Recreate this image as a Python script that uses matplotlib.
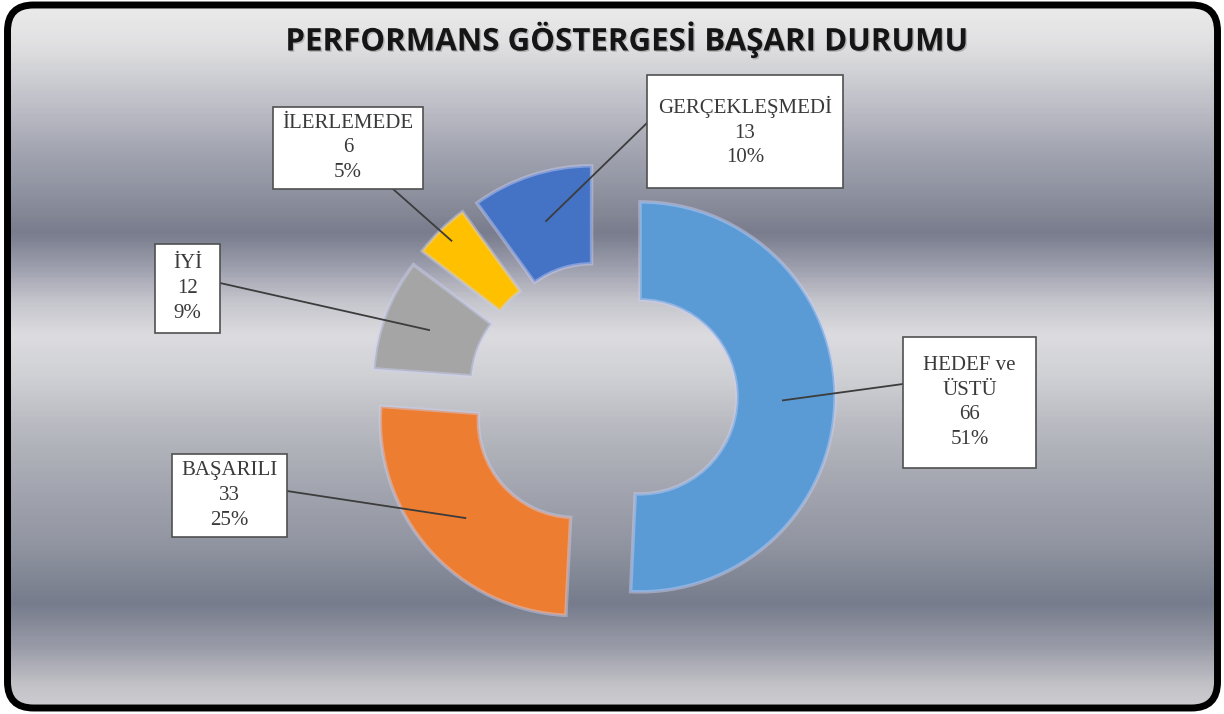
import matplotlib

matplotlib.use("Agg")
import matplotlib.pyplot as plt
import matplotlib.patheffects as pe
import numpy as np
from matplotlib.colors import LinearSegmentedColormap
from matplotlib.patches import FancyBboxPatch, Rectangle

# data
categories = ["HEDEF ve\nÜSTÜ", "BAŞARILI", "İYİ", "İLERLEMEDE", "GERÇEKLEŞMEDİ"]
counts = [66, 33, 12, 6, 13]
colors = ["#5B9BD5", "#ED7D31", "#A5A5A5", "#FFC000", "#4472C4"]
title = "PERFORMANS GÖSTERGESİ BAŞARI DURUMU"

# layout, in pixels of a 1224 x 714 canvas (y downwards)
W, H = 1224, 714
CENTER = (603, 396)
R_OUT, RING, EXPLODE = 195, 98, 37
# label boxes: (left, top, width, height) and where the leader leaves the box
BOXES = [(903, 337, 133, 131), (172, 454, 115, 83), (155, 244, 65, 89),
         (273, 107, 150, 82), (647, 75, 196, 113)]
ANCHORS = [(903, 384), (287, 491), (220, 283), (393, 189), (647, 123)]
LEADER_R = [143, 147, 149, 180, 147]

# metallic background bands
BG_STOPS = [(0.00, "#ececec"), (0.06, "#e0e0e2"), (0.13, "#c4c5cc"),
            (0.20, "#a6a8b4"), (0.28, "#8a8e9c"), (0.325, "#787c8c"),
            (0.37, "#9a9cab"), (0.42, "#c4c4cc"), (0.47, "#dcdce0"),
            (0.53, "#cfd0d4"), (0.60, "#b8b9c0"), (0.67, "#a6a9b2"),
            (0.76, "#9296a2"), (0.847, "#767c8c"), (0.91, "#9a9ca8"),
            (0.965, "#c4c4c8"), (1.00, "#d0d0d4")]

fig = plt.figure(figsize=(W / 100, H / 100), dpi=100)
ax = fig.add_axes([0, 0, 1, 1])

total = sum(counts)
wedges, _ = ax.pie(
    counts,
    colors=colors,
    startangle=-90,          # y axis is flipped below, so this is 12 o'clock
    counterclock=True,       # ...and this runs clockwise on screen
    radius=R_OUT,
    center=CENTER,
    explode=[EXPLODE] * len(counts),
    wedgeprops=dict(width=RING, edgecolor=(0.80, 0.82, 0.96, 0.45), linewidth=2.5),
)
for w in wedges:
    w.set_zorder(3)

ax.set_xlim(0, W)
ax.set_ylim(H, 0)
ax.set_aspect("equal")
ax.axis("off")

# rounded frame with the gradient inside
frame = FancyBboxPatch((7.5, 5), 1210, 703, boxstyle="round,pad=0,rounding_size=26",
                       facecolor="none", edgecolor="black", linewidth=5, zorder=10)
ax.add_patch(frame)
cmap = LinearSegmentedColormap.from_list("metal", BG_STOPS)
grad = np.linspace(0, 1, 400).reshape(-1, 1)
bg = ax.imshow(grad, cmap=cmap, aspect="auto", extent=(0, W, H, 0),
               origin="upper", zorder=0, interpolation="bilinear")
clip = FancyBboxPatch((7.5, 5), 1210, 703, boxstyle="round,pad=0,rounding_size=26",
                      facecolor="none", edgecolor="none", transform=ax.transData)
ax.add_patch(clip)
bg.set_clip_path(clip)

ax.text(626, 40, title, ha="center", va="center", fontsize=22.5, fontweight="bold",
        family="Open Sans", color="#151515", zorder=6,
        path_effects=[pe.withSimplePatchShadow(offset=(1, -1), alpha=0.2)])

# data labels with leader lines
for w, name, n, box, anchor, lr in zip(wedges, categories, counts, BOXES, ANCHORS, LEADER_R):
    mid = np.deg2rad((w.theta1 + w.theta2) / 2)
    cx, cy = w.center
    px, py = cx + lr * np.cos(mid), cy + lr * np.sin(mid)
    ax.plot([anchor[0], px], [anchor[1], py], color="#3c3c3c", lw=1.3, zorder=5)

    x0, y0, bw, bh = box
    ax.add_patch(Rectangle((x0, y0), bw, bh, facecolor="white", edgecolor="#505050",
                           linewidth=1.2, zorder=6))
    pct = round(n / total * 100)
    ax.text(x0 + bw / 2, y0 + bh / 2, f"{name}\n{n}\n{pct}%", ha="center", va="center",
            multialignment="center", fontsize=15, family="Liberation Serif",
            color="#3a3a3a", linespacing=1.4, zorder=7)

fig.savefig("out.png", dpi=100, facecolor="white")
